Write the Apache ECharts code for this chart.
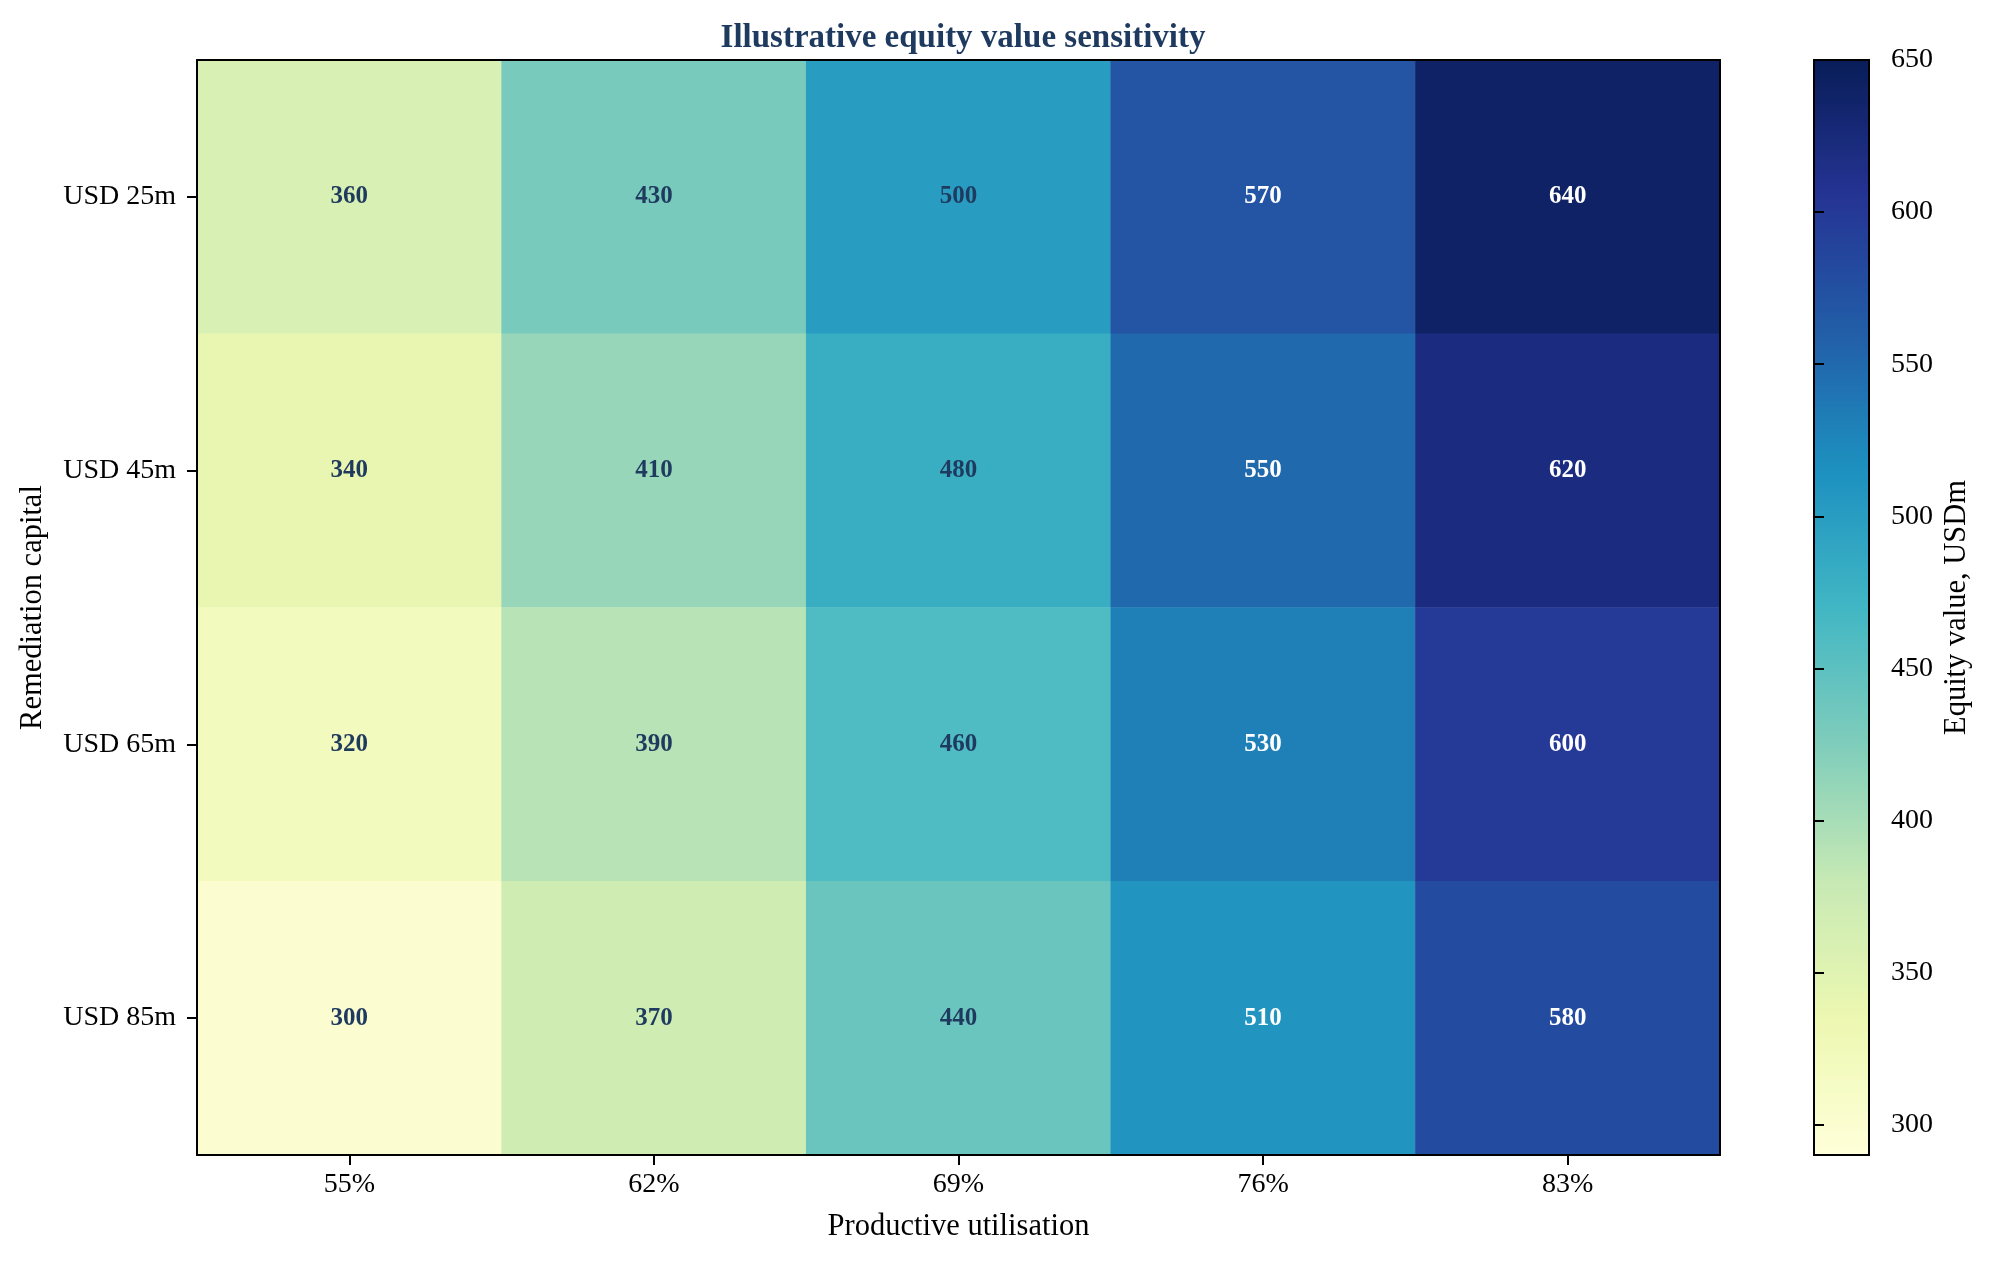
<!DOCTYPE html>
<html>
<head>
<meta charset="utf-8">
<script src="https://cdn.jsdelivr.net/npm/echarts@6/dist/echarts.min.js"></script>
<style>
html,body{margin:0;padding:0;background:#fff;}
#chart{width:1996px;height:1264px;}
</style>
</head>
<body>
<div id="chart"></div>
<script>
var utilisation = ['55%', '62%', '69%', '76%', '83%'];
var remediation = ['USD 25m', 'USD 45m', 'USD 65m', 'USD 85m'];
var row25 = [360, 430, 500, 570, 640];
var row45 = [340, 410, 480, 550, 620];
var row65 = [320, 390, 460, 530, 600];
var row85 = [300, 370, 440, 510, 580];
var colorbarTicks = [300, 350, 400, 450, 500, 550, 600, 650];
var vMin = 290, vMax = 650;
var ylgnbu = ['#ffffd9','#edf8b1','#c7e9b4','#7fcdbb','#41b6c4','#1d91c0','#225ea8','#253494','#081d58'];

var rows = [row25, row45, row65, row85];
var data = [];
rows.forEach(function (r, yi) {
  r.forEach(function (v, xi) {
    var dark = (v - vMin) / (vMax - vMin) > 0.6;
    data.push({
      value: [xi, yi, v],
      label: { color: dark ? '#ffffff' : '#1f3a5f' }
    });
  });
});

var FONT = 'Liberation Serif';
var chart = echarts.init(document.getElementById('chart'), null, {renderer: 'canvas'});
var option = {
  animation: false,
  backgroundColor: '#ffffff',
  textStyle: { fontFamily: FONT },
  title: {
    text: 'Illustrative equity value sensitivity',
    left: 958, top: 17, textAlign: 'center',
    textStyle: { fontFamily: FONT, fontSize: 33, fontWeight: 'bold', color: '#1f3a5f' }
  },
  grid: [
    { left: 197, top: 60, width: 1523, height: 1095, containLabel: false },
    { left: 1814, top: 60, width: 55, height: 1095, show: true, z: 10,
      backgroundColor: 'transparent', borderColor: '#000', borderWidth: 2 }
  ],
  xAxis: [
    {
      type: 'category', data: utilisation, gridIndex: 0, position: 'bottom', z: 10,
      name: 'Productive utilisation', nameLocation: 'middle', nameGap: 56,
      nameTextStyle: { fontFamily: FONT, fontSize: 30.5, color: '#000' },
      axisLine: { show: true, lineStyle: { color: '#000', width: 2 } },
      axisTick: { show: true, alignWithLabel: true, length: 10, lineStyle: { color: '#000', width: 2 } },
      axisLabel: { fontFamily: FONT, fontSize: 28, color: '#000', margin: 16 },
      splitLine: { show: false }
    },
    {
      type: 'category', data: utilisation, gridIndex: 0, position: 'top', z: 10,
      axisLine: { show: true, lineStyle: { color: '#000', width: 2 } },
      axisTick: { show: false }, axisLabel: { show: false }, splitLine: { show: false }
    },
    { type: 'value', gridIndex: 1, show: false, min: 0, max: 1 }
  ],
  yAxis: [
    {
      type: 'category', data: remediation, inverse: true, gridIndex: 0, position: 'left', z: 10,
      name: 'Remediation capital', nameLocation: 'middle', nameGap: 149, nameRotate: 90,
      nameTextStyle: { fontFamily: FONT, fontSize: 30.5, color: '#000' },
      axisLine: { show: true, lineStyle: { color: '#000', width: 2 } },
      axisTick: { show: true, alignWithLabel: true, length: 10, lineStyle: { color: '#000', width: 2 } },
      axisLabel: { fontFamily: FONT, fontSize: 28, color: '#000', margin: 21 },
      splitLine: { show: false }
    },
    {
      type: 'category', data: remediation, inverse: true, gridIndex: 0, position: 'right', z: 10,
      axisLine: { show: true, lineStyle: { color: '#000', width: 2 } },
      axisTick: { show: false }, axisLabel: { show: false }, splitLine: { show: false }
    },
    {
      type: 'value', gridIndex: 1, position: 'right', min: vMin, max: vMax, z: 10,
      name: 'Equity value, USDm', nameLocation: 'middle', nameGap: 72, nameRotate: 90,
      nameTextStyle: { fontFamily: FONT, fontSize: 30.5, color: '#000' },
      axisLine: { show: true, lineStyle: { color: '#000', width: 2 } },
      axisTick: { show: true, length: 10, customValues: colorbarTicks, lineStyle: { color: '#000', width: 2 } },
      axisLabel: { fontFamily: FONT, fontSize: 28, color: '#000', margin: 22, customValues: colorbarTicks },
      splitLine: { show: false }
    }
  ],
  visualMap: {
    type: 'continuous',
    min: vMin, max: vMax,
    dimension: 2,
    seriesIndex: 0,
    calculable: false,
    hoverLink: false,
    left: 1814, top: 60,
    itemWidth: 55, itemHeight: 1095,
    padding: 0,
    text: null,
    showLabel: false,
    inRange: { color: ylgnbu },
    orient: 'vertical'
  },
  series: [{
    type: 'heatmap',
    xAxisIndex: 0, yAxisIndex: 0,
    data: data,
    label: {
      show: true,
      fontFamily: FONT, fontSize: 25, fontWeight: 'bold',
      formatter: function (p) { return String(p.value[2]); }
    },
    itemStyle: { borderWidth: 0 },
    emphasis: { disabled: true }
  }]
};
chart.setOption(option);
</script>
</body>
</html>
